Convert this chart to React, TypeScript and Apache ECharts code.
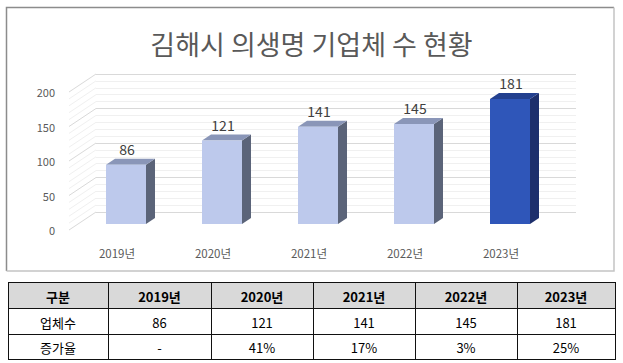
import React, { useEffect, useRef } from "react";
import * as echarts from "echarts";

const titleText = "김해시 의생명 기업체 수 현황";
const categories = ["2019년", "2020년", "2021년", "2022년", "2023년"];
const companyCounts = [86, 121, 141, 145, 181];
const growthRates = ["-", "41%", "17%", "3%", "25%"];
const headerLabel = "구분";
const rowLabels = ["업체수", "증가율"];
const yMin = 0;
const yMax = 200;
const yStep = 50;
const minorStep = 10;

const FONT = '"Noto Sans CJK KR", "Noto Sans", sans-serif';

export default function App() {
  const ref = useRef<HTMLDivElement>(null);
  useEffect(() => {
    document.body.style.margin = "0";
    const chart = echarts.init(ref.current!, null, { renderer: "svg" });

    const wallTicks: number[] = [];
    for (let t = yMin; t <= yMax; t += minorStep) wallTicks.push(t);

    const depthX = 9;
    const depthY = -6;
    const lastIdx = companyCounts.length - 1;

    // table graphics
    const colX = [8, 108, 211, 313, 415, 517, 615];
    const rowY = [282, 308, 334, 359];
    const tableEls: any[] = [];
    tableEls.push({
      type: "rect",
      shape: { x: colX[0], y: rowY[0], width: colX[6] - colX[0], height: rowY[1] - rowY[0] },
      style: { fill: "#d9d9d9" },
    });
    rowY.forEach((y) => {
      tableEls.push({
        type: "line",
        shape: { x1: colX[0], y1: y + 0.5, x2: colX[6] + 1, y2: y + 0.5 },
        style: { stroke: "#111", lineWidth: 1 },
      });
    });
    colX.forEach((x) => {
      tableEls.push({
        type: "line",
        shape: { x1: x + 0.5, y1: rowY[0], x2: x + 0.5, y2: rowY[3] + 1 },
        style: { stroke: "#111", lineWidth: 1 },
      });
    });
    const rows: { cells: string[]; bold: boolean }[] = [
      { cells: [headerLabel, ...categories], bold: true },
      { cells: [rowLabels[0], ...companyCounts.map(String)], bold: false },
      { cells: [rowLabels[1], ...growthRates], bold: false },
    ];
    rows.forEach((r, ri) => {
      r.cells.forEach((c, ci) => {
        tableEls.push({
          type: "text",
          style: {
            text: c,
            x: (colX[ci] + colX[ci + 1]) / 2,
            y: (rowY[ri] + rowY[ri + 1]) / 2 + 1,
            align: "center",
            verticalAlign: "middle",
            font: `${r.bold ? "bold " : ""}13px ${FONT}`,
            fill: "#000",
          },
        });
      });
    });

    const option: any = {
      animation: false,
      backgroundColor: "#fff",
      title: {
        text: titleText,
        left: "center",
        top: 25,
        textStyle: { fontFamily: FONT, fontSize: 27, fontWeight: "normal", color: "#595959" },
      },
      graphic: [
        {
          type: "polyline",
          shape: { points: [[6.5, 271], [6.5, 7.5], [614, 7.5]] },
          style: { stroke: "#8c8c8c", lineWidth: 1.5, fill: "none" },
        },
        {
          type: "polyline",
          shape: { points: [[614, 7.5], [614, 271], [6.5, 271]] },
          style: { stroke: "#c4c4c4", lineWidth: 1.5, fill: "none" },
        },
        ...tableEls,
      ],
      grid: [
        { left: 69, right: 74, top: 92, bottom: 133 },
        { left: 78, right: 65, top: 86, bottom: 139 },
        { left: 96, right: 47, top: 74, bottom: 151 },
      ],
      xAxis: [
        {
          gridIndex: 0,
          type: "category",
          data: categories,
          axisLine: { show: false },
          axisTick: { show: false },
          axisLabel: { margin: 17, fontFamily: FONT, fontSize: 11.5, color: "#595959" },
        },
        { gridIndex: 1, type: "category", data: categories, show: false },
        { gridIndex: 2, type: "category", data: categories, show: false },
      ],
      yAxis: [
        {
          gridIndex: 0,
          type: "value",
          min: yMin,
          max: yMax,
          interval: yStep,
          axisLine: { show: false },
          axisTick: { show: false },
          splitLine: { show: false },
          axisLabel: { margin: 14, fontFamily: FONT, fontSize: 11, color: "#595959" },
        },
        {
          gridIndex: 1,
          type: "value",
          min: yMin,
          max: yMax,
          interval: yStep,
          show: false,
          splitLine: { show: false },
        },
        {
          gridIndex: 2,
          type: "value",
          min: yMin,
          max: yMax,
          interval: yStep,
          axisLine: { show: false },
          axisTick: { show: false },
          axisLabel: { show: false },
          splitLine: { show: true, lineStyle: { color: "#d9d9d9", width: 1 } },
          minorTick: { show: false, splitNumber: yStep / minorStep },
          minorSplitLine: { show: true, lineStyle: { color: "#f0f0f0", width: 1 } },
        },
      ],
      series: [
        {
          type: "custom",
          xAxisIndex: 2,
          yAxisIndex: 2,
          z: 1,
          silent: true,
          data: wallTicks.map((t) => [0, t]),
          renderItem: (params: any, api: any) => {
            const v = api.value(1);
            const p = api.coord([0, v]);
            const band = api.size([1, 0])[0];
            const left = p[0] - band / 2;
            const major = v % yStep === 0;
            return {
              type: "line",
              shape: { x1: left, y1: p[1], x2: left - 3 * depthX, y2: p[1] - 3 * depthY },
              style: { stroke: major ? "#d9d9d9" : "#f0f0f0", lineWidth: 1 },
            };
          },
        },
        {
          type: "custom",
          xAxisIndex: 1,
          yAxisIndex: 1,
          z: 5,
          data: companyCounts.map((v, i) => [i, v]),
          renderItem: (params: any, api: any) => {
            const i = api.value(0);
            const v = api.value(1);
            const top = api.coord([i, v]);
            const bot = api.coord([i, 0]);
            const band = api.size([1, 0])[0];
            const w = (band * 40) / 96;
            const x0 = top[0] - w / 2;
            const x1 = x0 + w;
            const hi = i === lastIdx;
            const front = hi ? "#2f56b9" : "#bdc9ec";
            const side = hi ? "#1d2f6c" : "#5b6479";
            const topC = hi ? "#23408f" : "#8a96b8";
            return {
              type: "group",
              children: [
                {
                  type: "polygon",
                  shape: {
                    points: [
                      [x1, top[1]],
                      [x1 + depthX, top[1] + depthY],
                      [x1 + depthX, bot[1] + depthY],
                      [x1, bot[1]],
                    ],
                  },
                  style: { fill: side },
                },
                {
                  type: "polygon",
                  shape: {
                    points: [
                      [x0, top[1]],
                      [x1, top[1]],
                      [x1 + depthX, top[1] + depthY],
                      [x0 + depthX, top[1] + depthY],
                    ],
                  },
                  style: { fill: topC },
                },
                {
                  type: "rect",
                  shape: { x: x0, y: top[1], width: w, height: bot[1] - top[1] },
                  style: { fill: front },
                },
                {
                  type: "text",
                  style: {
                    text: String(v),
                    x: (x0 + x1) / 2 + 1,
                    y: top[1] - 16,
                    align: "center",
                    verticalAlign: "middle",
                    font: `14px ${FONT}`,
                    fill: "#404040",
                  },
                },
              ],
            };
          },
        },
      ],
    };
    chart.setOption(option);
    return () => chart.dispose();
  }, []);
  return <div ref={ref} style={{ width: 623, height: 363 }} />;
}
